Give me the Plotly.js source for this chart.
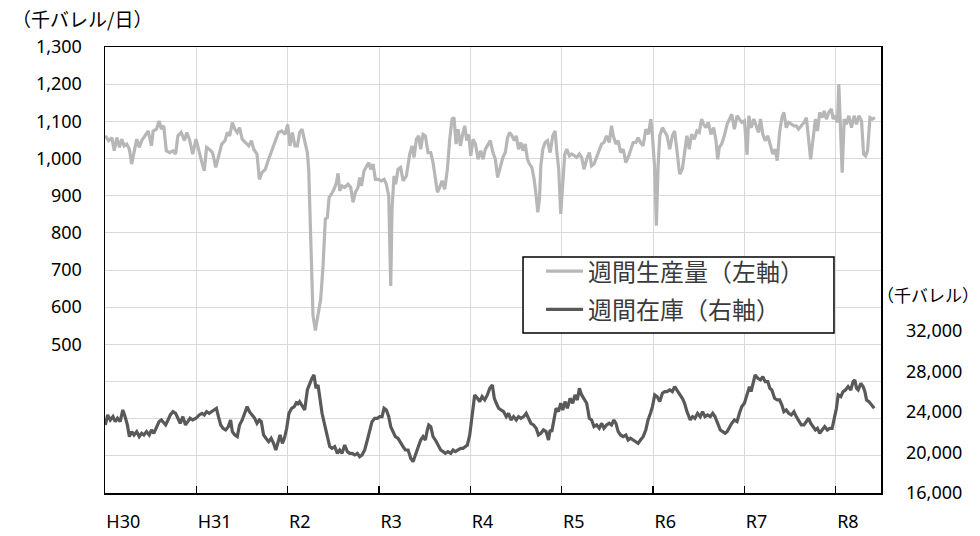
<!DOCTYPE html>
<html>
<head>
<meta charset="utf-8">
<script src="https://cdn.plot.ly/plotly-3.0.1.min.js"></script>
<style>html,body{margin:0;padding:0;background:#fff;}#chart{width:980px;height:536px;}</style>
</head>
<body>
<div id="chart"></div>
<script>
// Year ticks (calendar years 2018-2026)
const yearTickVals = [2018, 2019, 2020, 2021, 2022, 2023, 2024, 2025, 2026];
const yearTickText = ['H30', 'H31', 'R2', 'R3', 'R4', 'R5', 'R6', 'R7', 'R8'];

// Left axis (千バレル/日)
const leftTickVals = [100, 200, 300, 400, 500, 600, 700, 800, 900, 1000, 1100, 1200, 1300];
const leftTickText = ['', '', '', '', '500', '600', '700', '800', '900', '1,000', '1,100', '1,200', '1,300'];

// Right axis (千バレル)
const rightTickVals = [16000, 20000, 24000, 28000, 32000];
const rightTickText = ['16,000', '20,000', '24,000', '28,000', '32,000'];

const seriesNames = ['週間生産量（左軸）', '週間在庫（右軸）'];

// 週間生産量 (千バレル/日), x in decimal years
const prodX = [
2018.004,2018.040,2018.076,2018.101,2018.130,2018.159,2018.184,2018.209,2018.238,2018.267,
2018.292,2018.318,2018.347,2018.375,2018.401,2018.437,2018.473,2018.509,2018.527,2018.563,
2018.592,2018.617,2018.643,2018.671,2018.708,2018.744,2018.773,2018.798,2018.834,2018.870,
2018.895,2018.924,2018.960,2018.996,2019.032,2019.061,2019.087,2019.112,2019.141,2019.177,
2019.213,2019.242,2019.278,2019.314,2019.339,2019.365,2019.394,2019.422,2019.448,2019.473,
2019.502,2019.538,2019.574,2019.603,2019.628,2019.664,2019.690,2019.718,2019.755,2019.791,
2019.827,2019.863,2019.899,2019.935,2019.971,2020.000,2020.025,2020.051,2020.079,
2020.106,2020.131,2020.157,2020.186,2020.215,2020.230,2020.252,2020.277,2020.303,2020.332,
2020.361,2020.387,2020.412,2020.434,2020.453,2020.478,2020.507,2020.533,2020.551,2020.569,
2020.595,2020.624,2020.661,2020.690,2020.715,2020.741,2020.770,2020.788,2020.807,2020.836,
2020.861,2020.887,2020.909,2020.934,2020.960,2020.996,2021.026,2021.055,2021.080,2021.106,
2021.128,2021.142,2021.164,2021.182,2021.208,2021.237,2021.263,2021.299,2021.336,2021.361,
2021.383,2021.409,2021.434,2021.456,2021.482,2021.507,2021.536,2021.566,2021.591,2021.617,
2021.639,2021.664,2021.690,2021.719,2021.748,2021.774,2021.799,2021.821,2021.843,2021.865,
2021.891,2021.912,2021.938,2021.960,2021.982,2022.004,2022.029,2022.055,2022.084,2022.113,
2022.139,2022.164,2022.193,
2022.218,2022.247,2022.273,2022.298,2022.327,2022.356,2022.382,2022.407,2022.429,2022.455,
2022.480,2022.502,2022.527,2022.553,2022.575,2022.600,2022.625,2022.647,2022.673,2022.698,
2022.720,2022.738,2022.756,2022.771,2022.793,2022.818,2022.844,2022.873,2022.902,2022.927,
2022.945,2022.967,2022.989,2023.011,2023.033,2023.055,2023.084,2023.109,2023.135,2023.164,
2023.193,2023.218,2023.244,2023.273,2023.302,2023.327,2023.353,2023.382,2023.411,2023.436,
2023.462,2023.491,2023.520,2023.545,2023.564,2023.593,2023.618,2023.644,2023.673,2023.702,
2023.727,2023.753,2023.782,2023.811,2023.836,2023.862,2023.891,2023.920,2023.949,2023.975,
2023.993,2024.018,2024.036,2024.055,2024.073,2024.102,2024.127,2024.153,2024.182,2024.211,
2024.236,2024.262,2024.291,2024.320,2024.345,
2024.370,2024.396,2024.421,2024.451,2024.480,2024.505,2024.531,2024.553,2024.579,2024.604,
2024.634,2024.663,2024.689,2024.707,2024.725,2024.751,2024.780,2024.810,2024.835,2024.861,
2024.890,2024.919,2024.945,2024.971,2025.000,2025.029,2025.048,2025.073,2025.103,2025.128,
2025.154,2025.176,2025.201,2025.227,2025.256,2025.286,2025.311,2025.337,2025.359,2025.385,
2025.410,2025.432,2025.458,2025.484,2025.513,2025.542,2025.568,2025.593,2025.623,2025.652,
2025.678,2025.703,2025.725,2025.751,2025.777,2025.799,2025.824,2025.850,2025.872,2025.897,
2025.923,2025.952,2025.971,2025.996,2026.018,2026.033,2026.048,2026.070,2026.092,2026.117,
2026.143,2026.172,2026.201,2026.227,2026.253,2026.282,2026.304,2026.326,2026.348,2026.374,
2026.399,2026.429
];
const prodY = [
1061,1048,1056,1021,1056,1030,1052,1034,1039,1025,
985,1021,1052,1030,1048,1061,1074,1034,1074,1079,
1101,1079,1088,1021,1016,1021,1012,1061,1070,1048,
1070,1052,1012,1052,1012,989,967,1030,1025,1016,
976,1003,1039,1048,1070,1061,1097,1079,1070,1083,
1052,1043,1034,1048,1025,1012,944,962,971,998,
1021,1048,1070,1074,1065,1092,1034,1070,1034,
1034,1070,1079,1048,1016,971,792,577,537,577,
621,711,837,841,895,904,917,935,960,913,
926,922,931,922,882,909,922,949,926,967,
976,989,971,985,944,944,940,944,931,899,
657,864,953,931,971,976,940,953,1012,1034,
1003,1052,1061,1025,1065,1061,1016,1016,989,944,
909,922,940,917,971,1052,1106,1110,1039,1079,
1034,1061,1088,1048,1065,1007,1052,1039,998,1021,
998,1025,1039,
1048,1016,998,949,980,1003,1016,1056,1070,1061,
1048,1061,1025,1043,1021,1039,998,985,976,944,
899,855,890,980,1025,1043,1048,1016,1061,1074,
1021,971,851,944,1012,1025,1007,1012,1007,1003,
1012,1003,971,998,1016,980,985,1003,1021,1039,
1043,1061,1043,1088,1061,1039,1048,1016,1025,989,
1003,1025,1043,1043,1056,1043,1034,1079,1065,1106,
1061,971,819,980,1061,1083,1074,1061,1025,1061,
1074,1025,958,971,1016,
1061,1025,1065,1052,1074,1070,1106,1092,1083,1097,
1065,1083,1048,998,1030,1039,1061,1092,1106,1119,
1079,1115,1106,1097,1101,1010,1115,1083,1106,1088,
1070,1106,1065,1048,1061,1034,1012,1025,994,1070,
1110,1124,1083,1097,1092,1088,1088,1079,1088,1097,
1110,1052,998,1052,1106,1074,1124,1110,1128,1106,
1124,1133,1106,1115,1097,1200,1106,962,1106,1092,
1115,1083,1115,1092,1115,1101,1012,1007,1021,1110,
1106,1110
];

// 週間在庫 (千バレル), x in decimal years
const stockX = [
2018.004,2018.029,2018.058,2018.087,2018.112,2018.137,2018.166,2018.195,2018.220,2018.245,
2018.267,2018.292,2018.318,2018.347,2018.375,2018.401,2018.426,2018.455,2018.484,2018.509,
2018.534,2018.563,2018.592,2018.617,2018.643,2018.664,2018.690,2018.715,2018.744,2018.773,
2018.798,2018.823,2018.852,2018.881,2018.906,2018.931,2018.960,2018.996,2019.032,2019.061,
2019.087,2019.112,2019.141,2019.170,2019.195,2019.220,2019.242,2019.267,2019.292,2019.321,
2019.350,2019.375,2019.394,2019.422,2019.448,2019.473,2019.502,2019.531,2019.556,2019.581,
2019.610,2019.639,2019.664,2019.690,2019.711,2019.736,2019.762,2019.791,2019.819,2019.845,
2019.870,2019.899,2019.917,2019.942,2019.964,2019.989,2020.014,2020.043,2020.072,2020.101,
2020.106,2020.131,2020.157,2020.186,2020.215,2020.241,2020.266,2020.288,2020.310,2020.332,
2020.354,2020.376,2020.405,2020.434,2020.460,2020.485,2020.515,2020.544,2020.569,2020.595,
2020.624,2020.653,2020.679,2020.704,2020.734,2020.763,2020.788,2020.814,2020.843,2020.872,
2020.898,2020.923,2020.953,2020.982,2021.007,2021.033,2021.055,2021.080,2021.106,2021.128,
2021.153,2021.179,2021.208,2021.237,2021.263,2021.288,2021.318,2021.347,2021.372,2021.398,
2021.427,2021.456,2021.482,2021.507,2021.529,2021.544,2021.566,2021.591,2021.617,2021.646,
2021.675,2021.701,2021.726,2021.755,2021.785,2021.810,2021.836,2021.865,2021.894,2021.920,
2021.945,2021.967,2021.993,2022.018,2022.047,2022.077,2022.102,2022.128,2022.157,2022.186,
2022.212,
2022.240,2022.262,2022.284,2022.309,2022.335,2022.364,2022.393,2022.418,2022.444,2022.473,
2022.502,2022.527,2022.553,2022.582,2022.611,2022.636,2022.662,2022.691,2022.720,2022.745,
2022.771,2022.800,2022.829,2022.855,2022.873,2022.891,2022.916,2022.938,2022.964,2022.989,
2023.011,2023.036,2023.062,2023.091,2023.120,2023.145,2023.171,2023.193,2023.218,2023.244,
2023.273,2023.302,2023.327,2023.353,2023.382,2023.411,2023.436,2023.462,2023.491,2023.520,
2023.545,2023.571,2023.593,2023.618,2023.644,2023.673,2023.702,2023.727,2023.753,2023.782,
2023.811,2023.836,2023.862,2023.891,2023.920,2023.945,2023.971,2023.993,2024.018,2024.044,
2024.073,2024.102,2024.127,2024.153,2024.182,2024.211,2024.236,2024.262,2024.291,2024.320,
2024.345,2024.371,
2024.407,2024.432,2024.458,2024.487,2024.516,2024.542,2024.568,2024.597,2024.626,2024.652,
2024.678,2024.707,2024.736,2024.762,2024.788,2024.810,2024.835,2024.861,2024.890,2024.919,
2024.945,2024.971,2025.000,2025.029,2025.055,2025.073,2025.095,2025.117,2025.147,2025.176,
2025.201,2025.227,2025.256,2025.278,2025.300,2025.330,2025.359,2025.385,2025.410,2025.432,
2025.458,2025.484,2025.513,2025.542,2025.568,2025.593,2025.623,2025.652,2025.678,2025.703,
2025.725,2025.751,2025.777,2025.799,2025.824,2025.850,2025.879,2025.908,2025.934,2025.960,
2025.982,2026.007,2026.026,2026.055,2026.080,2026.106,2026.135,2026.164,2026.190,2026.209,
2026.227,2026.245,2026.275,2026.300,2026.319,2026.337,2026.363,2026.392,2026.421
];
const stockY = [
22712,23699,23205,23534,23041,23370,23041,24192,23534,22712,
21560,22054,21725,22054,21560,21889,21725,22054,21725,22218,
21889,22383,23041,23205,22876,22712,23205,23699,24028,23863,
23370,22876,23534,22712,23041,23370,23205,23370,23699,23863,
23699,24028,23863,24028,24192,24357,23534,22712,22383,22218,
22547,23205,22054,21725,21560,22712,23205,23863,24521,24028,
23699,23370,22876,23205,23041,21725,21396,21067,21396,20902,
20244,21067,21725,20902,21396,22383,23863,24357,24521,25015,
24686,25015,24686,24192,26166,26824,27318,27647,26331,26660,
25344,23863,22712,21725,20573,20409,20573,19915,20244,19915,
20738,20080,19915,19915,19751,19915,19586,19751,20244,21231,
22218,23041,23370,23370,23534,23534,24357,24192,23534,22547,
22054,21560,21396,20902,20573,20244,20244,19422,19093,19751,
20409,21231,21560,21231,22218,22712,22547,21560,21231,20738,
20244,20080,19915,20080,19915,20244,20080,20244,20409,20409,
20573,20738,21725,23699,25673,25344,25015,25508,25179,25673,
26331,
26660,25344,24850,24357,24192,24028,23534,23863,23205,23534,
23205,23534,23370,23534,23863,23370,22876,22712,22383,21725,
21889,22218,22054,21231,22218,22054,23205,24357,24028,24850,
24192,25015,24357,25344,24850,25673,25179,26331,25673,25344,
24850,23370,23205,22547,22712,22383,22876,22383,22712,22876,
22712,23205,22876,22054,21725,21560,21725,21231,21396,21231,
21067,20902,21231,21560,22218,23205,23863,24521,25673,25508,
25015,25837,26002,26002,26166,26002,26495,26166,25673,25344,
24850,24028,
23205,23534,23370,23863,23534,24028,23534,23699,23534,23863,
23534,22876,22218,22054,21889,22054,22547,22876,23205,23041,
23863,24521,24850,25673,26495,26002,26824,27647,27318,27153,
27482,26989,26989,26331,26166,25344,25179,25179,24686,24028,
24192,23863,23699,24028,23534,23205,22712,22712,23041,23370,
22876,22547,22218,22383,21889,22218,22547,22218,22383,22383,
23205,24357,25673,25508,26002,26166,26495,26166,26989,27153,
26331,26166,26824,26495,26002,25179,25015,24686,24357
];

const yTickFont = {family: 'Noto Sans, Noto Sans CJK JP, sans-serif', size: 18, color: '#000'};
const xTickFont = {family: 'Noto Sans, Noto Sans CJK JP, sans-serif', size: 18, color: '#000'};

const traces = [
  {
    x: prodX, y: prodY, name: seriesNames[0], type: 'scatter', mode: 'lines',
    line: {color: '#b7b7b7', width: 3.2}, yaxis: 'y', legendgroup: 'a'
  },
  {
    x: stockX, y: stockY, name: seriesNames[1], type: 'scatter', mode: 'lines',
    line: {color: '#595959', width: 3.2}, yaxis: 'y2', legendgroup: 'b'
  }
];

const layout = {
  width: 980, height: 536,
  margin: {l: 105, r: 99, t: 47, b: 43, pad: 0},
  paper_bgcolor: '#fff', plot_bgcolor: '#fff',
  font: yTickFont,
  showlegend: true,
  legend: {
    x: 0.5619, xanchor: 'left', y: 0.547, yanchor: 'top',
    bgcolor: 'rgba(0,0,0,0)', borderwidth: 0,
    font: {family: 'Noto Sans CJK JP, sans-serif', size: 24, color: '#3a3a3a'},
    itemwidth: 37, tracegroupgap: 4, traceorder: 'grouped'
  },
  shapes: [
    {type: 'rect', xref: 'paper', yref: 'paper', x0: 0.5387, x1: 0.9394, y0: 0.3587, y1: 0.5291,
     fillcolor: '#fff', line: {color: '#000', width: 1.5}, layer: 'above'}
  ],
  xaxis: {
    range: [2018, 2026.495],
    tickmode: 'array', tickvals: yearTickVals, ticktext: yearTickText,
    showgrid: true, gridcolor: '#d9d9d9', gridwidth: 1,
    zeroline: false,
    ticks: 'inside', ticklen: 7, tickcolor: '#000', tickwidth: 1.2,
    showline: true, linecolor: '#000', linewidth: 1.5, mirror: true,
    ticklabelposition: 'outside right', ticklabelstandoff: 12,
    tickfont: xTickFont
  },
  yaxis: {
    range: [100, 1300],
    tickmode: 'array', tickvals: leftTickVals, ticktext: leftTickText,
    showgrid: true, gridcolor: '#d9d9d9', gridwidth: 1,
    zeroline: false, ticks: '',
    showline: true, linecolor: '#000', linewidth: 1.5, mirror: true,
    ticklabelstandoff: 18,
    tickfont: yTickFont
  },
  yaxis2: {
    range: [16000, 60000], overlaying: 'y', side: 'right',
    tickmode: 'array', tickvals: rightTickVals, ticktext: rightTickText,
    showgrid: false, zeroline: false, ticks: '', showline: false,
    ticklabelstandoff: 24,
    tickfont: yTickFont
  },
  annotations: [
    {text: '（千バレル/日）', xref: 'paper', yref: 'paper', x: -0.123, y: 1.063,
     xanchor: 'left', yanchor: 'middle', showarrow: false,
     font: {family: 'Noto Sans CJK JP, sans-serif', size: 19, color: '#000'}},
    {text: '（千バレル）', xref: 'paper', yref: 'paper', x: 1.061, y: 0.444,
     xanchor: 'center', yanchor: 'middle', showarrow: false,
     font: {family: 'Noto Sans CJK JP, sans-serif', size: 17, color: '#000'}}
  ]
};

Plotly.newPlot('chart', traces, layout, {displayModeBar: false, staticPlot: true});
</script>
</body>
</html>
